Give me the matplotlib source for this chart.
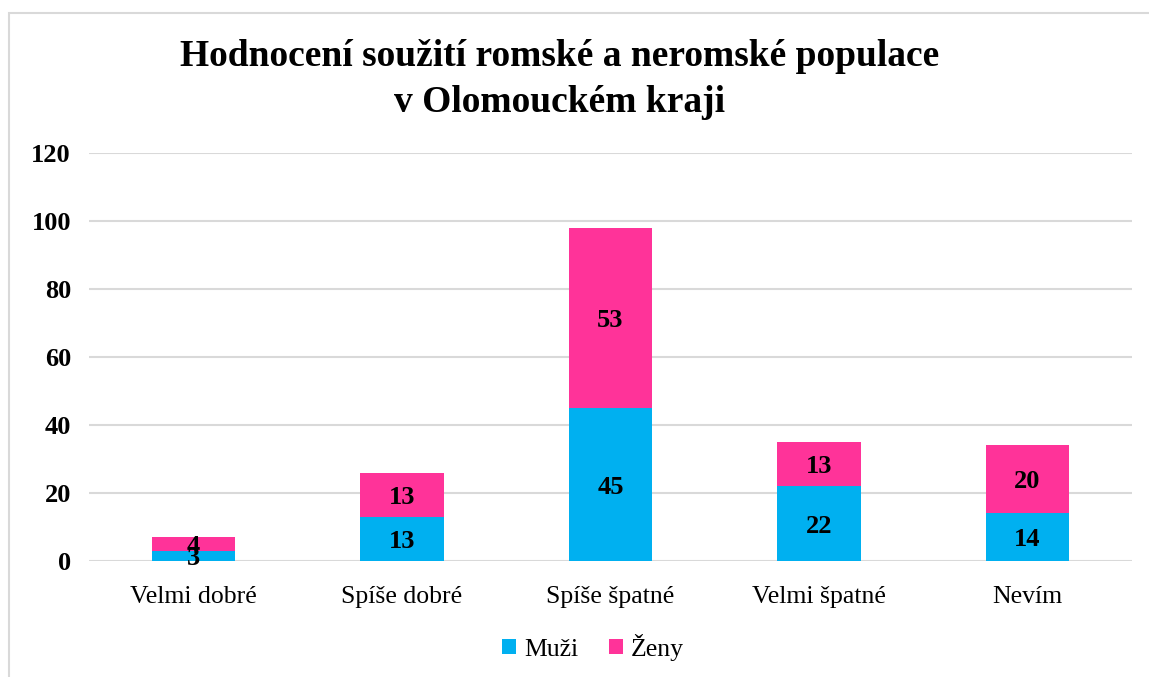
import matplotlib
matplotlib.use("Agg")
import matplotlib.pyplot as plt
import numpy as np
from matplotlib.patches import Rectangle

plt.rcParams['font.family'] = ['Liberation Serif', 'DejaVu Serif']

categories = ['Velmi dobré', 'Spíše dobré', 'Spíše špatné', 'Velmi špatné', 'Nevím']
muzi = [3, 13, 45, 22, 14]
zeny = [4, 13, 53, 13, 20]
yticks = [0, 20, 40, 60, 80, 100, 120]

blue = '#00B0F0'
pink = '#FF3399'

fig = plt.figure(figsize=(11.49, 6.77), dpi=100)
ax = fig.add_axes([0.0775, 0.1713, 0.9075, 0.6027])

x = np.arange(len(categories))
b1 = ax.bar(x, muzi, width=0.4, color=blue, label='Muži', zorder=3)
b2 = ax.bar(x, zeny, width=0.4, bottom=muzi, color=pink, label='Ženy', zorder=3)

# value labels in the middle of each segment (slightly lowered like the original)
for bars in (b1, b2):
    texts = ax.bar_label(bars, label_type='center', fontsize=19, fontweight='bold')
    for t in texts:
        t.set_va('center_baseline')

ax.set_xlim(-0.5, len(categories) - 0.5)
ax.set_ylim(0, 120)
ax.set_yticks(yticks)
ax.set_xticks(x)
ax.set_xticklabels(categories, fontsize=18.5)
for lbl in ax.get_yticklabels():
    lbl.set_fontweight('bold')
    lbl.set_fontsize(19)
ax.tick_params(axis='both', length=0)
ax.tick_params(axis='y', pad=13)
ax.tick_params(axis='x', pad=18)
ax.grid(axis='y', color='#D9D9D9', linewidth=1.5, zorder=0)
for s in ax.spines.values():
    s.set_visible(False)

fig.text(0.487, 0.882, 'Hodnocení soužití romské a neromské populace\nv Olomouckém kraji',
         ha='center', va='center', fontsize=27, fontweight='bold', linespacing=1.4)

fig.legend(handles=[b1, b2], loc='center', bbox_to_anchor=(0.516, 0.044), ncol=2,
           frameon=False, fontsize=18.5, handlelength=0.55, handleheight=0.55,
           handletextpad=0.3, columnspacing=1.2)

fig.patches.append(Rectangle((9 / 1149, -0.1), 1.2, 1 - 13 / 677 + 0.1,
                             transform=fig.transFigure, fill=False,
                             edgecolor='#D9D9D9', linewidth=1.5))

fig.savefig('out.png', dpi=100)
